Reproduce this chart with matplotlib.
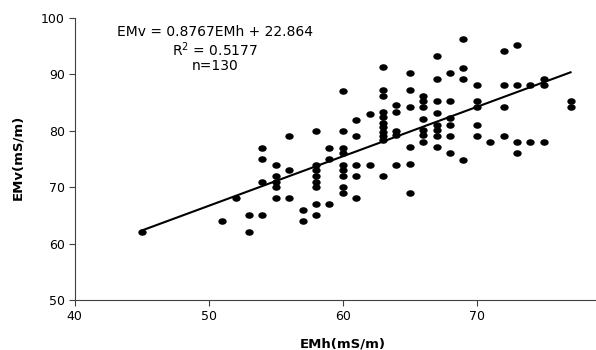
import numpy as np
import matplotlib
matplotlib.use("Agg")
import matplotlib.pyplot as plt
from matplotlib.path import Path

# EMh (x) and EMv (y) readings, grouped by EMh column
emh = [45,
       51, 52, 53, 53,
       54, 54, 54, 54,
       55, 55, 55, 55, 55,
       56, 56, 56,
       57, 57,
       58, 58, 58, 58, 58, 58, 58, 58,
       59, 59, 59,
       60, 60, 60, 60, 60, 60, 60, 60, 60,
       61, 61, 61, 61, 61,
       62, 62,
       63, 63, 63, 63, 63, 63, 63, 63, 63, 63, 63,
       64, 64, 64, 64, 64,
       65, 65, 65, 65, 65, 65,
       66, 66, 66, 66, 66, 66, 66,
       67, 67, 67, 67, 67, 67, 67, 67,
       68, 68, 68, 68, 68, 68,
       69, 69, 69, 69,
       70, 70, 70, 70, 70,
       71,
       72, 72, 72, 72,
       73, 73, 73, 73,
       74, 74,
       75, 75, 75,
       77, 77]
emv = [62,
       64, 68, 65, 62,
       77, 75, 71, 65,
       74, 72, 71, 70, 68,
       79, 73, 68,
       66, 64,
       80, 74, 73, 72, 71, 70, 67, 65,
       77, 75, 67,
       87, 80, 77, 76, 74, 73, 72, 70, 69,
       82, 79, 74, 72, 68,
       83, 74,
       91.3, 87.2, 86.2, 83.4, 82.4, 81.4, 80.6, 79.8, 79.0, 78.3, 72,
       84.5, 83.4, 80, 79.3, 74,
       90.2, 87.2, 84.3, 77.1, 74.1, 69,
       86.2, 85.2, 84.3, 82.1, 80.1, 79.2, 78.1,
       93.3, 89.1, 85.2, 83.1, 81, 80.1, 79.1, 77.1,
       90.2, 85.2, 82.2, 81, 79.1, 76,
       96.2, 91.2, 89.1, 74.9,
       88.2, 85.2, 84.3, 81, 79.1,
       78.1,
       94.2, 88.2, 84.3, 79.1,
       95.2, 88.2, 78.1, 76,
       88.2, 78.1,
       89.1, 88.2, 78.1,
       85.2, 84.3]

slope = 0.8767
intercept = 22.864
r2 = 0.5177
n = 130

xticks = [40, 50, 60, 70]
yticks = [50, 60, 70, 80, 90, 100]

W, H = 596, 350
fig = plt.figure(figsize=(W / 100, H / 100), dpi=100)
ax = fig.add_axes([74.7 / W, 1 - 300 / H, 1 - 74.7 / W, 282 / H])

# slightly wide dots like the original
circ = Path.unit_circle()
dot = Path(circ.vertices * [1.35, 1.0], circ.codes)

ax.plot(emh, emv, linestyle='none', marker=dot, ms=5.0, color='black')

fx = np.array([min(emh), max(emh)])
ax.plot(fx, slope * fx + intercept, color='black', lw=1.5)

ax.set_xlim(40, 78.9)
ax.set_ylim(50, 100)
ax.set_xticks(xticks)
ax.set_yticks(yticks)
for s in ['top', 'right']:
    ax.spines[s].set_visible(False)
for s in ['left', 'bottom']:
    ax.spines[s].set_color('#404040')
    ax.spines[s].set_linewidth(0.8)
ax.tick_params(direction='out', length=4, width=0.8, color='#404040',
               labelsize=9, pad=3)

fig.text(343 / W, 1 - 344 / H, 'EMh(mS/m)', ha='center', va='center',
         fontsize=9.5, fontweight='bold')
fig.text(18 / W, 1 - 157 / H, 'EMv(mS/m)', ha='center', va='center',
         rotation=90, fontsize=9.5, fontweight='bold')

fig.text(215 / W, 1 - 32 / H, 'EMv = %.4fEMh + %.3f' % (slope, intercept),
         ha='center', va='center', fontsize=10)
fig.text(215 / W, 1 - 50 / H, 'R$^2$ = %.4f' % r2,
         ha='center', va='center', fontsize=10)
fig.text(215 / W, 1 - 66 / H, 'n=%d' % n,
         ha='center', va='center', fontsize=10)

fig.savefig('out.png', dpi=100)
